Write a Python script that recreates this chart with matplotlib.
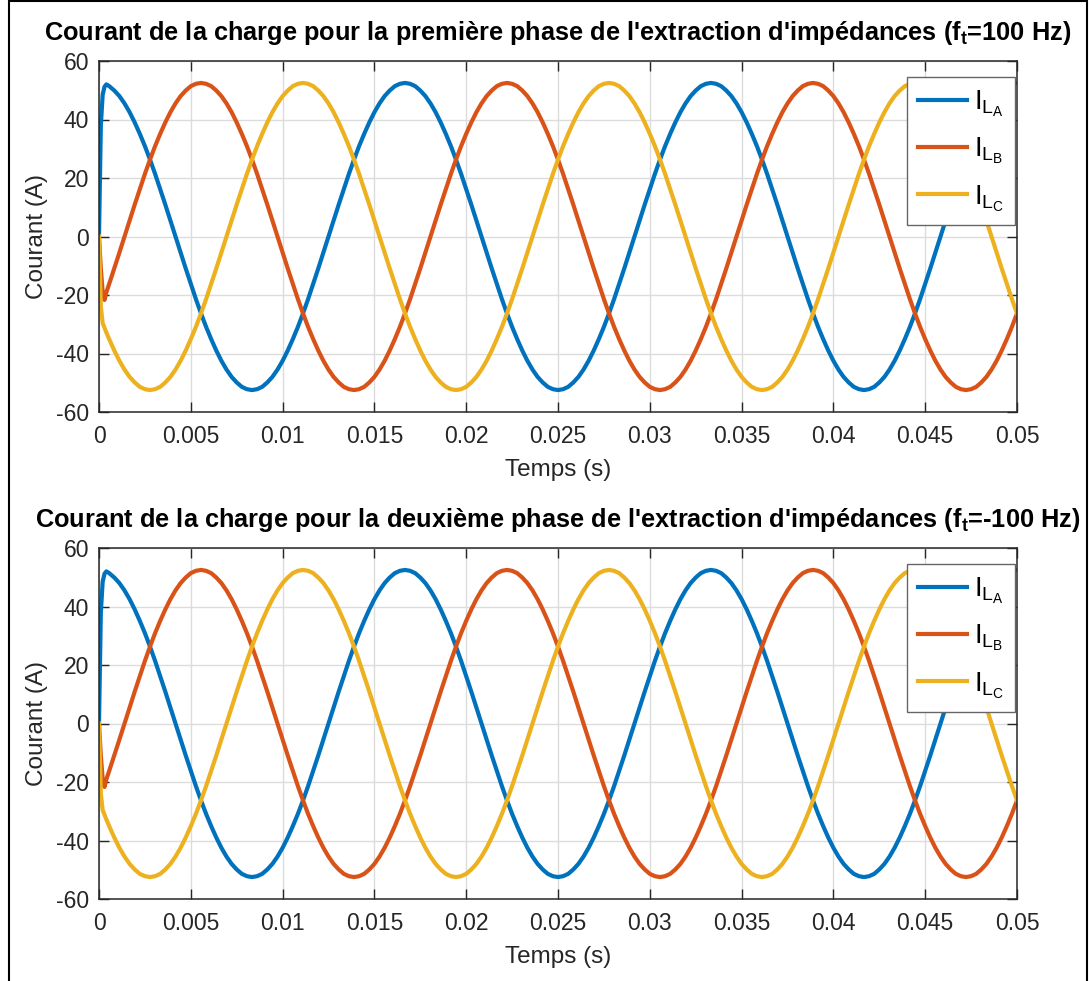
import numpy as np
import matplotlib.pyplot as plt
from matplotlib.patches import Rectangle

plt.rcParams['font.family'] = ['Liberation Sans', 'DejaVu Sans']
plt.rcParams['mathtext.fontset'] = 'custom'
plt.rcParams['mathtext.rm'] = 'Liberation Sans'
plt.rcParams['mathtext.it'] = 'Liberation Sans:italic'
plt.rcParams['mathtext.bf'] = 'Liberation Sans:bold'
plt.rcParams['axes.unicode_minus'] = False

# start-up samples (s, A)
t_start = [0, 0.0001, 0.0002, 0.0003, 0.0004]
ia_start = [0, 38.0, 48.5, 51.2, 52.0]
ib_start = [0, -11.0, -19.0, -21.7, -19.1]
ic_start = [0, -24.0, -29.6, -31.2, -32.8]

# steady-state samples, every 1/3600 s from 2/3600 s to 0.05 s
t_steady = np.arange(2, 181) / 3600
ia_steady = [51.4, 49.9, 48.0, 45.5, 42.5, 39.0, 35.1, 30.9, 26.3, 21.4, 16.2, 10.9, 5.5, 0, -5.5, -10.9, -16.2, -21.4,
             -26.3, -30.9, -35.1, -39.0, -42.5, -45.5, -48.0, -49.9, -51.4, -52.2, -52.5, -52.2, -51.4, -49.9, -48.0, -45.5, -42.5, -39.0, -35.1, -30.9,
             -26.3, -21.4, -16.2, -10.9, -5.5, 0, 5.5, 10.9, 16.2, 21.4, 26.3, 30.9, 35.1, 39.0, 42.5, 45.5, 48.0, 49.9, 51.4, 52.2,
             52.5, 52.2, 51.4, 49.9, 48.0, 45.5, 42.5, 39.0, 35.1, 30.9, 26.3, 21.4, 16.2, 10.9, 5.5, 0, -5.5, -10.9, -16.2, -21.4,
             -26.3, -30.9, -35.1, -39.0, -42.5, -45.5, -48.0, -49.9, -51.4, -52.2, -52.5, -52.2, -51.4, -49.9, -48.0, -45.5, -42.5, -39.0, -35.1, -30.9,
             -26.3, -21.4, -16.2, -10.9, -5.5, 0, 5.5, 10.9, 16.2, 21.4, 26.3, 30.9, 35.1, 39.0, 42.5, 45.5, 48.0, 49.9, 51.4, 52.2,
             52.5, 52.2, 51.4, 49.9, 48.0, 45.5, 42.5, 39.0, 35.1, 30.9, 26.3, 21.4, 16.2, 10.9, 5.5, 0, -5.5, -10.9, -16.2, -21.4,
             -26.3, -30.9, -35.1, -39.0, -42.5, -45.5, -48.0, -49.9, -51.4, -52.2, -52.5, -52.2, -51.4, -49.9, -48.0, -45.5, -42.5, -39.0, -35.1, -30.9,
             -26.3, -21.4, -16.2, -10.9, -5.5, 0, 5.5, 10.9, 16.2, 21.4, 26.3, 30.9, 35.1, 39.0, 42.5, 45.5, 48.0, 49.9, 51.4, 52.2,
             52.5]
ib_steady = [-16.2, -10.9, -5.5, 0, 5.5, 10.9, 16.2, 21.4, 26.3, 30.9, 35.1, 39.0, 42.5, 45.5, 48.0, 49.9, 51.4, 52.2,
             52.5, 52.2, 51.4, 49.9, 48.0, 45.5, 42.5, 39.0, 35.1, 30.9, 26.3, 21.4, 16.2, 10.9, 5.5, 0, -5.5, -10.9, -16.2, -21.4,
             -26.3, -30.9, -35.1, -39.0, -42.5, -45.5, -48.0, -49.9, -51.4, -52.2, -52.5, -52.2, -51.4, -49.9, -48.0, -45.5, -42.5, -39.0, -35.1, -30.9,
             -26.3, -21.4, -16.2, -10.9, -5.5, 0, 5.5, 10.9, 16.2, 21.4, 26.3, 30.9, 35.1, 39.0, 42.5, 45.5, 48.0, 49.9, 51.4, 52.2,
             52.5, 52.2, 51.4, 49.9, 48.0, 45.5, 42.5, 39.0, 35.1, 30.9, 26.3, 21.4, 16.2, 10.9, 5.5, 0, -5.5, -10.9, -16.2, -21.4,
             -26.3, -30.9, -35.1, -39.0, -42.5, -45.5, -48.0, -49.9, -51.4, -52.2, -52.5, -52.2, -51.4, -49.9, -48.0, -45.5, -42.5, -39.0, -35.1, -30.9,
             -26.3, -21.4, -16.2, -10.9, -5.5, 0, 5.5, 10.9, 16.2, 21.4, 26.3, 30.9, 35.1, 39.0, 42.5, 45.5, 48.0, 49.9, 51.4, 52.2,
             52.5, 52.2, 51.4, 49.9, 48.0, 45.5, 42.5, 39.0, 35.1, 30.9, 26.3, 21.4, 16.2, 10.9, 5.5, 0, -5.5, -10.9, -16.2, -21.4,
             -26.3, -30.9, -35.1, -39.0, -42.5, -45.5, -48.0, -49.9, -51.4, -52.2, -52.5, -52.2, -51.4, -49.9, -48.0, -45.5, -42.5, -39.0, -35.1, -30.9,
             -26.3]
ic_steady = [-35.1, -39.0, -42.5, -45.5, -48.0, -49.9, -51.4, -52.2, -52.5, -52.2, -51.4, -49.9, -48.0, -45.5, -42.5, -39.0, -35.1, -30.9,
             -26.3, -21.4, -16.2, -10.9, -5.5, 0, 5.5, 10.9, 16.2, 21.4, 26.3, 30.9, 35.1, 39.0, 42.5, 45.5, 48.0, 49.9, 51.4, 52.2,
             52.5, 52.2, 51.4, 49.9, 48.0, 45.5, 42.5, 39.0, 35.1, 30.9, 26.3, 21.4, 16.2, 10.9, 5.5, 0, -5.5, -10.9, -16.2, -21.4,
             -26.3, -30.9, -35.1, -39.0, -42.5, -45.5, -48.0, -49.9, -51.4, -52.2, -52.5, -52.2, -51.4, -49.9, -48.0, -45.5, -42.5, -39.0, -35.1, -30.9,
             -26.3, -21.4, -16.2, -10.9, -5.5, 0, 5.5, 10.9, 16.2, 21.4, 26.3, 30.9, 35.1, 39.0, 42.5, 45.5, 48.0, 49.9, 51.4, 52.2,
             52.5, 52.2, 51.4, 49.9, 48.0, 45.5, 42.5, 39.0, 35.1, 30.9, 26.3, 21.4, 16.2, 10.9, 5.5, 0, -5.5, -10.9, -16.2, -21.4,
             -26.3, -30.9, -35.1, -39.0, -42.5, -45.5, -48.0, -49.9, -51.4, -52.2, -52.5, -52.2, -51.4, -49.9, -48.0, -45.5, -42.5, -39.0, -35.1, -30.9,
             -26.3, -21.4, -16.2, -10.9, -5.5, 0, 5.5, 10.9, 16.2, 21.4, 26.3, 30.9, 35.1, 39.0, 42.5, 45.5, 48.0, 49.9, 51.4, 52.2,
             52.5, 52.2, 51.4, 49.9, 48.0, 45.5, 42.5, 39.0, 35.1, 30.9, 26.3, 21.4, 16.2, 10.9, 5.5, 0, -5.5, -10.9, -16.2, -21.4,
             -26.3]

t = np.concatenate([t_start, t_steady])
currents = [np.concatenate([ia_start, ia_steady]),
            np.concatenate([ib_start, ib_steady]),
            np.concatenate([ic_start, ic_steady])]
labels = [r'$\mathrm{I_{L_A}}$', r'$\mathrm{I_{L_B}}$', r'$\mathrm{I_{L_C}}$']
colors = ['#0072BD', '#D95319', '#EDB120']

titles = [r"Courant de la charge pour la première phase de l'extraction d'impédances ($\mathbf{f_t}$=100 Hz)",
          r"Courant de la charge pour la deuxième phase de l'extraction d'impédances ($\mathbf{f_t}$=-100 Hz)"]
xticks = [0, 0.005, 0.01, 0.015, 0.02, 0.025, 0.03, 0.035, 0.04, 0.045, 0.05]
xtick_labels = ['0', '0.005', '0.01', '0.015', '0.02', '0.025', '0.03', '0.035', '0.04', '0.045', '0.05']
yticks = [-60, -40, -20, 0, 20, 40, 60]

fig = plt.figure(figsize=(10.89, 9.81), dpi=100)
fig.patches.append(Rectangle((9 / 1089, -0.05), 1078 / 1089, 1.05 - 1.5 / 981,
                             transform=fig.transFigure, fill=False,
                             edgecolor='black', lw=1.5))

axes_pos = [[99 / 1089, 1 - 412 / 981, 918 / 1089, 351 / 981],
            [99 / 1089, 1 - 899 / 981, 918 / 1089, 351 / 981]]

for pos, title in zip(axes_pos, titles):
    ax = fig.add_axes(pos)
    for y, lab, c in zip(currents, labels, colors):
        ax.plot(t, y, color=c, lw=3, label=lab)
    ax.set_xlim(0, 0.05)
    ax.set_ylim(-60, 60)
    ax.set_xticks(xticks)
    ax.set_xticklabels(xtick_labels)
    ax.set_yticks(yticks)
    ax.grid(True, color='#dcdcdc', lw=1)
    ax.set_axisbelow(True)
    ax.tick_params(direction='in', length=7, width=1, top=True, right=True,
                   labelsize=16.5, colors='#262626')
    ax.tick_params(axis='x', pad=9.5)
    ax.tick_params(axis='y', pad=7)
    for s in ax.spines.values():
        s.set_linewidth(1.1)
        s.set_color('#262626')
    ax.set_xlabel('Temps (s)', fontsize=17.5, color='#262626', labelpad=8)
    ax.set_ylabel('Courant (A)', fontsize=17.5, color='#262626', labelpad=6)
    ax.set_title(title, fontsize=18.3, fontweight='bold', pad=15)
    leg = ax.legend(loc='upper right', bbox_to_anchor=(0.998, 0.954),
                    borderaxespad=0, fontsize=20, fancybox=False,
                    framealpha=1, edgecolor='#666666', handlelength=1.75,
                    handletextpad=0.25, borderpad=0.4, labelspacing=0.6)
    leg.get_frame().set_linewidth(1)

fig.savefig('out.png', dpi=100)
